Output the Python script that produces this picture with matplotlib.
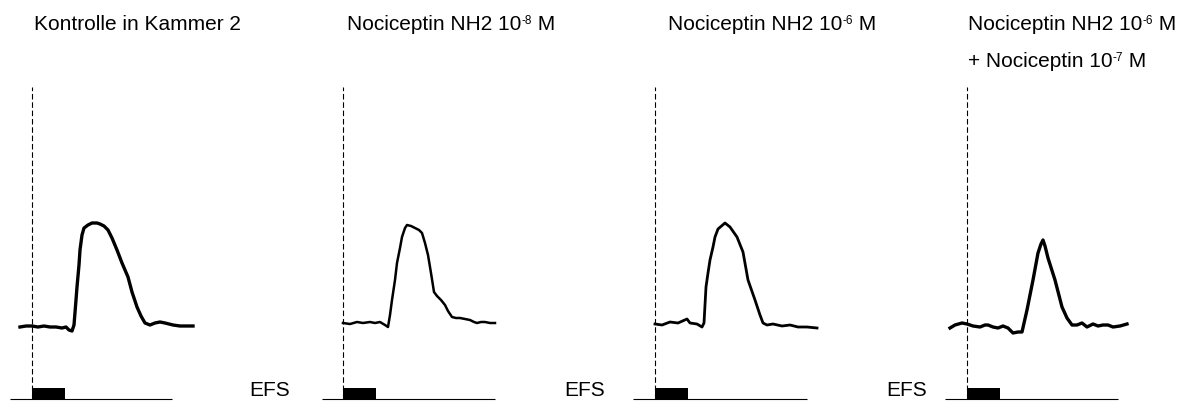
import matplotlib.pyplot as plt
import numpy as np

plt.rcParams['font.family'] = ['Liberation Sans', 'DejaVu Sans']

# time in s relative to stimulus onset, force in arbitrary units (baseline ~0)
t1 = [-3.6, -1.8, 0, 1.8, 3.6, 5.4, 7.2, 9.0, 10.2, 11.1, 12.0, 12.6, 13.2, 13.5, 14.1, 14.4,
      15.0, 15.6, 16.8, 18.0, 19.5, 20.4, 21.6, 22.8, 24.0, 25.5, 27.0, 28.8, 30.0, 31.5, 32.7,
      33.9, 35.4, 36.9, 38.4, 39.9, 42.3, 44.4, 46.5, 48.3]
y1 = [-0.1, 0, 0, -0.1, 0, -0.1, -0.1, -0.2, -0.1, -0.4, -0.5, 0.1, 2.6, 3.9, 6.1, 7.6,
      9.1, 9.8, 10.1, 10.3, 10.3, 10.2, 10.0, 9.6, 8.8, 7.6, 6.3, 4.9, 3.4, 1.9, 1.0,
      0.3, 0.1, 0.3, 0.4, 0.3, 0.1, 0, 0, 0]

t2 = [0, 2.1, 4.2, 6.0, 8.1, 9.6, 11.1, 12.6, 13.5, 14.1, 14.7, 15.6, 16.2, 17.1, 17.7, 18.6,
      19.2, 20.4, 21.6, 22.8, 23.7, 24.6, 25.5, 26.4, 27.3, 28.2, 29.4, 30.6, 31.5, 32.7, 33.9,
      35.1, 36.6, 38.1, 39.3, 40.2, 41.4, 42.6, 44.1, 45.6]
y2 = [0.3, 0.2, 0.4, 0.3, 0.4, 0.3, 0.4, 0.1, -0.1, 1.1, 2.6, 4.6, 6.3, 7.8, 8.9, 9.8,
      10.1, 10.0, 9.8, 9.6, 9.3, 8.3, 7.1, 5.3, 3.4, 3.0, 2.6, 2.1, 1.5, 0.9, 0.8,
      0.8, 0.7, 0.6, 0.4, 0.3, 0.4, 0.4, 0.3, 0.3]

t3 = [0, 2.1, 4.5, 6.9, 9.6, 10.5, 12.6, 14.1, 14.7, 15.3, 15.9, 16.5, 17.4, 18.0, 18.9, 21.0,
      22.5, 24.6, 26.4, 27.9, 30.0, 31.5, 32.4, 33.6, 35.4, 38.1, 40.5, 42.9, 45.6, 48.6]
y3 = [0.2, 0.1, 0.4, 0.3, 0.7, 0.3, 0.2, -0.1, 0.3, 3.9, 5.3, 6.6, 7.9, 8.9, 9.7, 10.3,
      9.9, 8.9, 7.4, 4.6, 2.6, 1.1, 0.3, 0.1, 0.2, 0.0, 0.1, -0.1, -0.1, -0.2]

t4 = [-5.1, -3.6, -1.5, 0, 1.8, 3.9, 5.4, 6.3, 7.8, 9.3, 10.8, 12.3, 13.8, 15.3, 16.5, 18.0,
      19.8, 21.3, 22.2, 22.8, 23.4, 24.3, 26.4, 28.5, 30.0, 31.5, 33.0, 34.5, 36.0, 37.8,
      39.3, 40.8, 42.3, 43.8, 45.9, 48.0]
y4 = [-0.2, 0.1, 0.3, 0.2, 0, -0.1, 0.1, 0.1, -0.1, -0.2, 0, -0.2, -0.7, -0.6, -0.6, 1.6,
      4.6, 7.3, 8.2, 8.6, 8.0, 6.8, 4.6, 1.9, 0.8, 0.1, 0.1, 0.3, -0.1, 0.2,
      0, 0.1, 0.1, -0.1, 0, 0.2]

times = [t1, t2, t3, t4]
traces = [y1, y2, y3, y4]

titles = ["Kontrolle in Kammer 2", "Nociceptin NH2 10", "Nociceptin NH2 10", "Nociceptin NH2 10"]
exponents = [None, "-8", "-6", "-6"]
second_line = "+ Nociceptin 10"
second_exp = "-7"

stim_start = 0
stim_dur = 10
line_start = [-6.6, -6.3, -6.6, -6.6]
line_end = [42.0, 45.6, 45.6, 45.3]

# layout (pixels) and styles
W, H = 1189, 403
onset_px = [32, 343, 655, 967]
title_x = [0.6, 1.2, 3.9, 0.3]
efs_x = [None, -15.9, -15.0, -12.0]
lws = [2.4, 1.8, 2.0, 2.4]
px_per_s = 1 / 0.3
base_px = 326

fig = plt.figure(figsize=(W / 100, H / 100), dpi=100)

for i in range(4):
    left = onset_px[i] - 40
    ax = fig.add_axes([left / W, 0, 210 / W, 1])
    ax.set_xlim(-40 / px_per_s, 170 / px_per_s)
    ax.set_ylim((base_px - H) / 10, base_px / 10)
    ax.axis('off')

    ax.plot(times[i], traces[i], color='black', lw=lws[i], solid_joinstyle='round')

    # stimulus marker
    ax.hlines(-7.3, line_start[i], line_end[i], color='black', lw=0.8)
    ax.bar(stim_start, 1.1, width=stim_dur, bottom=-7.3, align='edge', color='black')
    ax.vlines(stim_start, -7.3, 23.9, color='black', lw=0.8, linestyles=(0, (5, 2.5)))

    if efs_x[i] is not None:
        ax.text(efs_x[i], -7.0, "EFS", fontsize=15, ha='right', va='baseline')

    txt = ax.text(title_x[i], 29.6, titles[i], fontsize=15, va='baseline')
    if exponents[i]:
        sup = ax.annotate(exponents[i], xy=(1, 1), xycoords=txt, fontsize=8.5,
                          ha='left', va='top')
        ax.annotate(" M", xy=(1, 0), xycoords=(sup, txt), fontsize=15,
                    ha='left', va='bottom')

    if i == 3:
        txt2 = ax.text(title_x[i], 25.9, second_line, fontsize=15, va='baseline')
        sup2 = ax.annotate(second_exp, xy=(1, 1), xycoords=txt2, fontsize=8.5,
                           ha='left', va='top')
        ax.annotate(" M", xy=(1, 0), xycoords=(sup2, txt2), fontsize=15,
                    ha='left', va='bottom')

fig.savefig("out.png", dpi=100)
